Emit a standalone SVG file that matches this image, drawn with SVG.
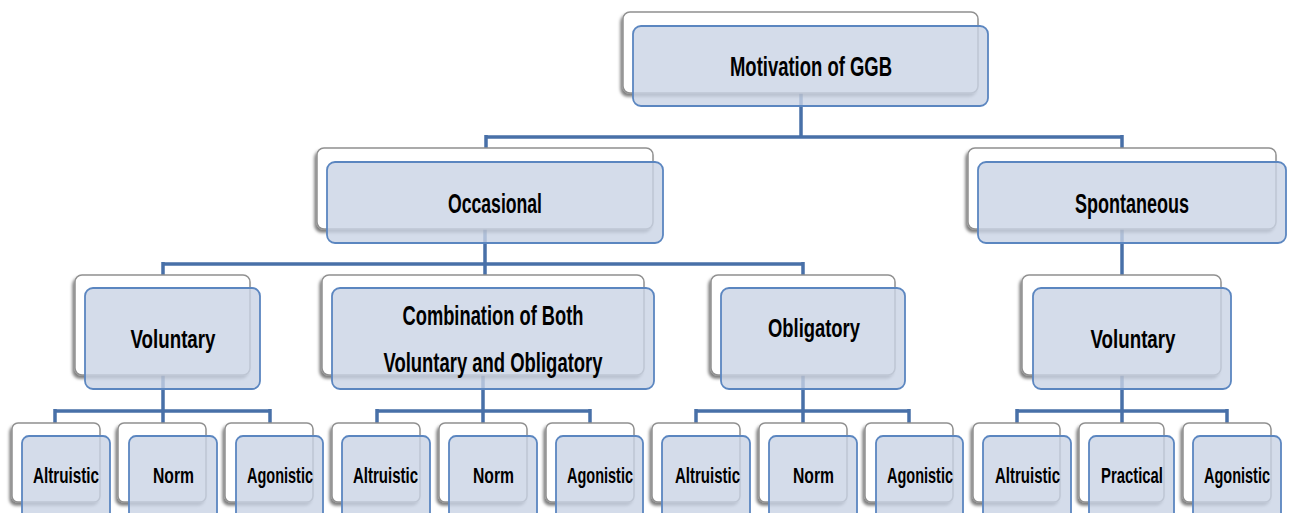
<svg xmlns="http://www.w3.org/2000/svg" width="1292" height="513" viewBox="0 0 1292 513">
<defs>
<filter id="sh" x="-20%" y="-20%" width="140%" height="140%">
<feDropShadow dx="-2" dy="3" stdDeviation="1.6" flood-color="#000" flood-opacity="0.5"/>
</filter>
</defs>
<style>
.bk{fill:#fff;stroke:#909090;stroke-width:1.5;filter:url(#sh)}
.fr{fill:#c9d3e5;fill-opacity:0.8;stroke:#5b86c0;stroke-width:1.8}
.c{fill:none;stroke:#4870a8;stroke-width:3.5}
text{font-family:"Liberation Sans",Arial,sans-serif;font-weight:bold;fill:#000;text-anchor:middle}
.t1{font-size:27px}
.t2{font-size:26px}
.t3{font-size:22px}
</style>
<rect width="1292" height="513" fill="#fff"/>
<g id="connectors">
<path class="c" d="M801 93V137M486 137H1122M486 135V150M1122 135V150"/>
<path class="c" d="M485 229V264M163 264H803M163 262V277M485 262V277M803 262V277"/>
<path class="c" d="M1122 229V277"/>
<path class="c" d="M163 375V411M55 411H270M55 409V425M163 409V425M270 409V425"/>
<path class="c" d="M483 375V411M377 411H590M377 409V425M483 409V425M590 409V425"/>
<path class="c" d="M803 375V411M696 411H909M696 409V425M803 409V425M909 409V425"/>
<path class="c" d="M1122 375V411M1017 411H1227M1017 409V425M1122 409V425M1227 409V425"/>
</g>
<g id="n-root"><rect class="bk" x="623" y="12" width="355" height="81" rx="7"/><rect class="fr" x="633" y="26" width="355" height="80" rx="8"/><text class="t1" x="811" y="76" textLength="162" lengthAdjust="spacingAndGlyphs">Motivation of GGB</text></g>
<g id="n-occasional"><rect class="bk" x="317" y="148" width="336" height="81" rx="7"/><rect class="fr" x="327" y="162" width="336" height="81" rx="8"/><text class="t1" x="495" y="213" textLength="94" lengthAdjust="spacingAndGlyphs">Occasional</text></g>
<g id="n-spontaneous"><rect class="bk" x="968" y="148" width="308" height="81" rx="7"/><rect class="fr" x="978" y="162" width="308" height="81" rx="8"/><text class="t1" x="1132" y="213" textLength="114" lengthAdjust="spacingAndGlyphs">Spontaneous</text></g>
<g id="n-voluntary1"><rect class="bk" x="75" y="275" width="175" height="100" rx="7"/><rect class="fr" x="85" y="288" width="175" height="101" rx="8"/><text class="t2" x="173" y="348" textLength="85" lengthAdjust="spacingAndGlyphs">Voluntary</text></g>
<g id="n-combination"><rect class="bk" x="322" y="275" width="322" height="100" rx="7"/><rect class="fr" x="332" y="288" width="322" height="101" rx="8"/><text class="t1" x="493" y="325" textLength="181" lengthAdjust="spacingAndGlyphs">Combination of Both</text><text class="t1" x="493" y="372" textLength="219" lengthAdjust="spacingAndGlyphs">Voluntary and Obligatory</text></g>
<g id="n-obligatory"><rect class="bk" x="711" y="275" width="184" height="100" rx="7"/><rect class="fr" x="721" y="288" width="184" height="101" rx="8"/><text class="t2" x="814" y="337" textLength="92" lengthAdjust="spacingAndGlyphs">Obligatory</text></g>
<g id="n-voluntary2"><rect class="bk" x="1022" y="275" width="199" height="100" rx="7"/><rect class="fr" x="1033" y="288" width="198" height="101" rx="8"/><text class="t2" x="1133" y="348" textLength="85" lengthAdjust="spacingAndGlyphs">Voluntary</text></g>
<g id="n-l1"><rect class="bk" x="12" y="423" width="88" height="79" rx="6"/><rect class="fr" x="22" y="436" width="88" height="90" rx="7"/><text class="t3" x="66" y="483" textLength="66" lengthAdjust="spacingAndGlyphs">Altruistic</text></g>
<g id="n-l2"><rect class="bk" x="118" y="423" width="88" height="79" rx="6"/><rect class="fr" x="129" y="436" width="88" height="90" rx="7"/><text class="t3" x="173.5" y="483" textLength="41" lengthAdjust="spacingAndGlyphs">Norm</text></g>
<g id="n-l3"><rect class="bk" x="225" y="423" width="88" height="79" rx="6"/><rect class="fr" x="236" y="436" width="87" height="90" rx="7"/><text class="t3" x="280" y="483" textLength="66" lengthAdjust="spacingAndGlyphs">Agonistic</text></g>
<g id="n-l4"><rect class="bk" x="332" y="423" width="88" height="79" rx="6"/><rect class="fr" x="342" y="436" width="88" height="90" rx="7"/><text class="t3" x="385.5" y="483" textLength="65" lengthAdjust="spacingAndGlyphs">Altruistic</text></g>
<g id="n-l5"><rect class="bk" x="439" y="423" width="88" height="79" rx="6"/><rect class="fr" x="449" y="436" width="88" height="90" rx="7"/><text class="t3" x="493.5" y="483" textLength="41" lengthAdjust="spacingAndGlyphs">Norm</text></g>
<g id="n-l6"><rect class="bk" x="546" y="423" width="88" height="79" rx="6"/><rect class="fr" x="556" y="436" width="87" height="90" rx="7"/><text class="t3" x="600" y="483" textLength="66" lengthAdjust="spacingAndGlyphs">Agonistic</text></g>
<g id="n-l7"><rect class="bk" x="652" y="423" width="88" height="79" rx="6"/><rect class="fr" x="662" y="436" width="88" height="90" rx="7"/><text class="t3" x="707.5" y="483" textLength="65" lengthAdjust="spacingAndGlyphs">Altruistic</text></g>
<g id="n-l8"><rect class="bk" x="759" y="423" width="88" height="79" rx="6"/><rect class="fr" x="769" y="436" width="88" height="90" rx="7"/><text class="t3" x="813.5" y="483" textLength="41" lengthAdjust="spacingAndGlyphs">Norm</text></g>
<g id="n-l9"><rect class="bk" x="865" y="423" width="88" height="79" rx="6"/><rect class="fr" x="876" y="436" width="87" height="90" rx="7"/><text class="t3" x="920" y="483" textLength="66" lengthAdjust="spacingAndGlyphs">Agonistic</text></g>
<g id="n-l10"><rect class="bk" x="973" y="423" width="87" height="79" rx="6"/><rect class="fr" x="983" y="436" width="88" height="90" rx="7"/><text class="t3" x="1027.5" y="483" textLength="65" lengthAdjust="spacingAndGlyphs">Altruistic</text></g>
<g id="n-l11"><rect class="bk" x="1079" y="423" width="85" height="79" rx="6"/><rect class="fr" x="1089" y="436" width="85" height="90" rx="7"/><text class="t3" x="1132" y="483" textLength="62" lengthAdjust="spacingAndGlyphs">Practical</text></g>
<g id="n-l12"><rect class="bk" x="1183" y="423" width="88" height="79" rx="6"/><rect class="fr" x="1193" y="436" width="88" height="90" rx="7"/><text class="t3" x="1237" y="483" textLength="66" lengthAdjust="spacingAndGlyphs">Agonistic</text></g>
</svg>
